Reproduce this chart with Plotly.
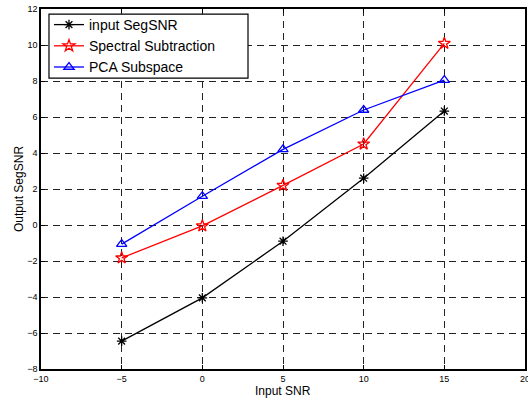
import plotly.graph_objects as go

snr = [-5, 0, 5, 10, 15]
input_segsnr = [-6.45, -4.05, -0.9, 2.6, 6.33]
spectral_sub = [-1.83, -0.05, 2.2, 4.5, 10.09]
pca_subspace = [-1.06, 1.6, 4.2, 6.39, 8.05]

series = [
    ("input SegSNR", input_segsnr, "black", "asterisk-open", 8),
    ("Spectral Subtraction", spectral_sub, "red", "star-open", 9),
    ("PCA Subspace", pca_subspace, "blue", "triangle-up-open", 9),
]

FONT = "Liberation Sans, Arial"

fig = go.Figure()
for name, vals, col, sym, size in series:
    fig.add_trace(go.Scatter(
        x=snr, y=vals, name=name, mode="lines+markers",
        line=dict(color=col, width=1.3),
        marker=dict(symbol=sym, size=size, color=col, line=dict(color=col, width=1.3)),
    ))

axis_common = dict(
    showline=True, linecolor="black", linewidth=1.5, mirror="ticks",
    ticks="inside", ticklen=4, tickcolor="black", tickwidth=1,
    showgrid=True, gridcolor="#222", gridwidth=1, griddash="7px,5px",
    zeroline=False, automargin=False, ticklabeloverflow="allow",
    tickfont=dict(family=FONT, size=9, color="black"),
)

fig.update_xaxes(range=[-10, 20], tickvals=[-10, -5, 0, 5, 10, 15, 20], ticklabelstandoff=0, **axis_common)
fig.update_yaxes(range=[-8, 12], tickvals=list(range(-8, 13, 2)), ticklabelstandoff=0, **axis_common)

fig.add_annotation(text="Input SNR", xref="paper", yref="paper", x=0.5, y=0,
                   xanchor="center", yanchor="top", yshift=-13, showarrow=False,
                   font=dict(family=FONT, size=12, color="black"))
fig.add_annotation(text="Output SegSNR", xref="paper", yref="paper", x=0, y=0.5,
                   xanchor="right", yanchor="middle", xshift=-13, textangle=-90, showarrow=False,
                   font=dict(family=FONT, size=12, color="black"))

# legend frame
fig.add_shape(type="rect", xref="paper", yref="paper", x0=0.0165, x1=0.4277, y0=0.808, y1=0.986,
              fillcolor="white", line=dict(color="black", width=1.2), layer="above")

fig.update_layout(
    width=528, height=401,
    margin=dict(l=41, r=3, t=9, b=32),
    paper_bgcolor="white", plot_bgcolor="white",
    legend=dict(x=0.0165, y=1.0, xanchor="left", yanchor="top",
                bgcolor="rgba(0,0,0,0)", borderwidth=0,
                font=dict(family=FONT, size=14, color="black"),
                tracegroupgap=0),
    showlegend=True,
)

fig.write_html("out.html", config={"displayModeBar": False},
               post_script="document.body.style.margin='0';document.body.style.overflow='hidden';")
